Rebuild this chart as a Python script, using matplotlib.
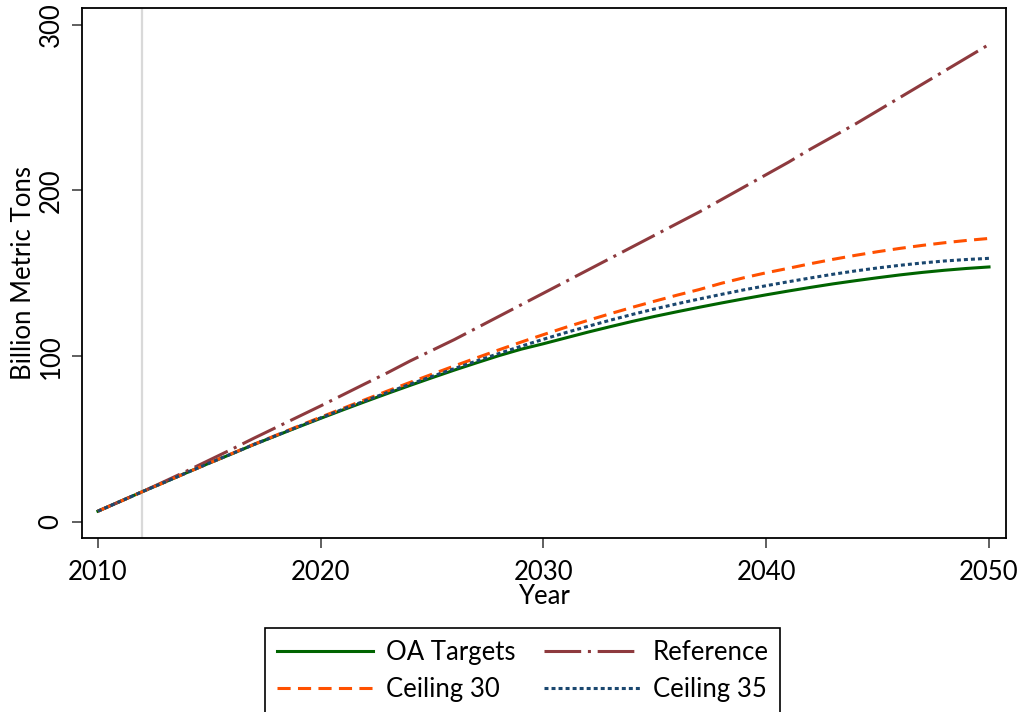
import matplotlib
matplotlib.use("Agg")
import matplotlib.pyplot as plt

plt.rcParams['font.family'] = ['Lato', 'DejaVu Sans']

# years 2010..2050
years = list(range(2010, 2051))

oa_targets = [6.5, 12.4, 18.3, 24.0, 29.8, 35.5, 41.0, 46.7, 52.0, 57.3,
              62.5, 67.6, 72.6, 77.5, 82.3, 87.0, 91.6, 96.0, 100.3, 104.2,
              107.5, 111.0, 114.5, 117.8, 121.0, 124.0, 126.8, 129.5, 132.1, 134.6,
              137.0, 139.3, 141.5, 143.6, 145.5, 147.3, 149.0, 150.5, 151.8, 152.9,
              153.8]

reference = [6.5, 12.4, 18.3, 24.5, 30.8, 37.3, 43.8, 50.5, 57.0, 63.5,
             70.0, 76.7, 83.4, 90.0, 97.0, 103.5, 110.0, 117.0, 124.0, 131.0,
             138.0, 145.0, 152.0, 159.0, 166.0, 173.0, 180.0, 187.0, 194.5, 202.0,
             209.5, 217.0, 225.0, 232.5, 240.0, 248.0, 256.0, 264.0, 272.0, 280.0,
             288.0]

ceiling_30 = [6.5, 12.4, 18.3, 24.0, 29.8, 35.5, 41.2, 46.8, 52.3, 57.8,
              63.2, 68.5, 73.8, 79.0, 84.1, 89.1, 94.1, 99.0, 103.8, 108.5,
              113.0, 117.4, 121.6, 125.6, 129.5, 133.2, 136.8, 140.2, 144.0, 147.3,
              150.3, 153.0, 155.8, 158.4, 160.8, 163.0, 165.0, 166.8, 168.4, 169.8,
              171.0]

ceiling_35 = [6.5, 12.4, 18.3, 24.0, 29.8, 35.5, 41.1, 46.7, 52.1, 57.5,
              62.8, 68.0, 73.1, 78.1, 83.0, 87.8, 92.5, 97.1, 101.6, 106.0,
              110.2, 114.2, 118.0, 121.7, 125.2, 128.5, 131.6, 134.5, 137.3, 140.0,
              142.5, 144.9, 147.2, 149.4, 151.4, 153.2, 154.8, 156.2, 157.4, 158.3,
              159.0]

x_ticks = [2010, 2020, 2030, 2040, 2050]
y_ticks = [0, 100, 200, 300]
marker_year = 2012

fs = 18.5

fig = plt.figure(figsize=(10.22, 7.12), dpi=100)
ax = fig.add_axes([0.0799, 0.2448, 0.9044, 0.744])

ax.axvline(marker_year, color='#d9d9d9', lw=1.6, zorder=1)

lw = 2.2
ax.plot(years, oa_targets, color='#006400', lw=lw, label='OA Targets', zorder=3)
ax.plot(years, reference, color='#8e3a3e', lw=lw, dashes=(12, 2.2, 1, 2.2),
        label='Reference', zorder=3)
ax.plot(years, ceiling_30, color='#ff5000', lw=lw, dashes=(4.3, 2.4),
        label='Ceiling 30', zorder=3)
ax.plot(years, ceiling_35, color='#1a476f', lw=lw, dashes=(1.3, 1.0),
        label='Ceiling 35', zorder=4)

ax.set_xlim(2009.27, 2050.76)
ax.set_ylim(-9.5, 310)
ax.set_xticks(x_ticks)
ax.set_yticks(y_ticks)
ax.tick_params(direction='out', length=7, width=1.2, color='#444444',
               labelsize=fs)
ax.tick_params(axis='x', pad=9)
ax.tick_params(axis='y', pad=6)
for lab in ax.get_yticklabels():
    lab.set_rotation(90)
    lab.set_va('center')
for sp in ax.spines.values():
    sp.set_linewidth(1.3)

ax.set_xlabel('Year', fontsize=fs, labelpad=-1)
ax.set_ylabel('Billion Metric Tons', fontsize=fs, labelpad=2)

# legend order: row 1 OA Targets / Reference, row 2 Ceiling 30 / Ceiling 35
h, l = ax.get_legend_handles_labels()
order = [0, 2, 1, 3]
leg = fig.legend([h[i] for i in order], [l[i] for i in order],
                 loc='upper left', bbox_to_anchor=(265 / 1022, 1 - 628 / 712),
                 ncol=2, fontsize=fs, handlelength=3.75, handletextpad=0.5,
                 columnspacing=1.1, borderpad=0.45, labelspacing=0.5,
                 borderaxespad=0, fancybox=False, edgecolor='black',
                 framealpha=1)
leg.get_frame().set_linewidth(1.2)

fig.savefig('out.png', dpi=100)
